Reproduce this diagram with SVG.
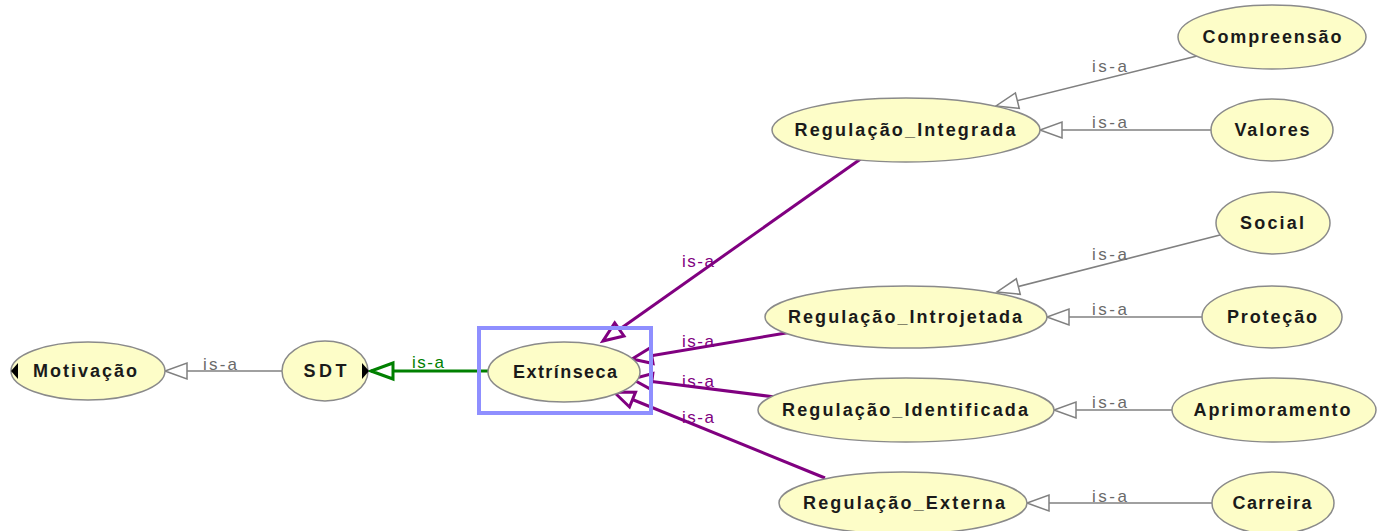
<svg xmlns="http://www.w3.org/2000/svg" width="1380" height="531" viewBox="0 0 1380 531">
  <style>
    .node ellipse { fill: #fdfdc8; stroke: #8a8a8a; stroke-width: 1.5; }
    .node text { font-family: "Liberation Sans", Arial, sans-serif; font-weight: bold; font-size: 18px; fill: #1a1a1a; text-anchor: middle; }
    .edge { fill: none; }
    .gray { stroke: #808080; stroke-width: 1.6; }
    .purple { stroke: #800080; stroke-width: 3; }
    .green { stroke: #008000; stroke-width: 3; }
    .lbl { font-family: "Liberation Sans", Arial, sans-serif; font-size: 17px; }
    .lbl.g { fill: #6a6a6a; }
    .lbl.p { fill: #800080; }
    .lbl.gr { fill: #008000; }
  </style>
  <defs>
    <marker id="tri-gray" markerUnits="userSpaceOnUse" markerWidth="30" markerHeight="30" refX="0" refY="0" viewBox="-25 -12 30 24" orient="auto" overflow="visible">
      <path d="M0,0 L-22,-8 L-22,8 Z" fill="#ffffff" stroke="#808080" stroke-width="1.5"/>
    </marker>
    <marker id="tri-purple" markerUnits="userSpaceOnUse" markerWidth="30" markerHeight="30" refX="0" refY="0" viewBox="-25 -12 30 24" orient="auto" overflow="visible">
      <path d="M0,0 L-20,-8 L-20,8 Z" fill="#ffffff" stroke="#800080" stroke-width="3"/>
    </marker>
    <marker id="tri-green" markerUnits="userSpaceOnUse" markerWidth="30" markerHeight="30" refX="0" refY="0" viewBox="-25 -12 30 24" orient="auto" overflow="visible">
      <path d="M0,0 L-22,-8 L-22,8 Z" fill="#ffffff" stroke="#008000" stroke-width="3"/>
    </marker>
  </defs>

  <rect width="1380" height="531" fill="#ffffff"/>

  <!-- is-a connectors -->
  <g id="connectors">
    <line class="edge gray" x1="282" y1="371" x2="165" y2="371" marker-end="url(#tri-gray)"/>
    <line class="edge green" x1="488" y1="371" x2="371" y2="371" marker-end="url(#tri-green)"/>

    <line class="edge purple" x1="862" y1="158" x2="603" y2="341" marker-end="url(#tri-purple)"/>
    <line class="edge purple" x1="792" y1="332" x2="632" y2="359" marker-end="url(#tri-purple)"/>
    <line class="edge purple" x1="775" y1="397" x2="632" y2="379" marker-end="url(#tri-purple)"/>
    <line class="edge purple" x1="825" y1="478" x2="614" y2="392" marker-end="url(#tri-purple)"/>

    <line class="edge gray" x1="1197" y1="56" x2="996" y2="106" marker-end="url(#tri-gray)"/>
    <line class="edge gray" x1="1212" y1="130" x2="1040" y2="130" marker-end="url(#tri-gray)"/>
    <line class="edge gray" x1="1220" y1="235" x2="997" y2="292" marker-end="url(#tri-gray)"/>
    <line class="edge gray" x1="1203" y1="317" x2="1047" y2="317" marker-end="url(#tri-gray)"/>
    <line class="edge gray" x1="1172" y1="410" x2="1054" y2="410" marker-end="url(#tri-gray)"/>
    <line class="edge gray" x1="1212" y1="503" x2="1027" y2="503" marker-end="url(#tri-gray)"/>

    <text class="lbl g" x="203" y="370" textLength="34">is-a</text>
    <text class="lbl gr" x="412" y="368" textLength="32">is-a</text>
    <text class="lbl p" x="682" y="267" textLength="32">is-a</text>
    <text class="lbl p" x="682" y="347" textLength="32">is-a</text>
    <text class="lbl p" x="682" y="387" textLength="32">is-a</text>
    <text class="lbl p" x="682" y="423" textLength="32">is-a</text>
    <text class="lbl g" x="1092" y="72" textLength="35">is-a</text>
    <text class="lbl g" x="1092" y="128" textLength="35">is-a</text>
    <text class="lbl g" x="1092" y="260" textLength="35">is-a</text>
    <text class="lbl g" x="1092" y="315" textLength="35">is-a</text>
    <text class="lbl g" x="1092" y="408" textLength="35">is-a</text>
    <text class="lbl g" x="1092" y="502" textLength="35">is-a</text>
  </g>

  <!-- selection frame -->
  <rect x="479" y="328" width="172" height="85" fill="none" stroke="#8f8fff" stroke-width="4"/>

  <g id="node-motivacao" class="node">
    <ellipse cx="88" cy="371" rx="77" ry="29"/>
    <path d="M11,371 L18,363 L18,379 Z" fill="#000000"/>
    <text x="85" y="377" textLength="104">Motivação</text>
  </g>
  <g id="node-sdt" class="node">
    <ellipse cx="325" cy="371" rx="43" ry="30"/>
    <path d="M369,371 L362,363 L362,379 Z" fill="#000000"/>
    <text x="325" y="377" textLength="43">SDT</text>
  </g>
  <g id="node-extrinseca" class="node">
    <ellipse cx="564" cy="372" rx="76" ry="30"/>
    <text x="565" y="378" textLength="104">Extrínseca</text>
  </g>
  <g id="node-integrada" class="node">
    <ellipse cx="906" cy="130" rx="134" ry="32"/>
    <text x="905" y="136" textLength="221">Regulação_Integrada</text>
  </g>
  <g id="node-introjetada" class="node">
    <ellipse cx="906" cy="317" rx="141" ry="31"/>
    <text x="905" y="323" textLength="234">Regulação_Introjetada</text>
  </g>
  <g id="node-identificada" class="node">
    <ellipse cx="906" cy="410" rx="148" ry="32"/>
    <text x="905" y="416" textLength="246">Regulação_Identificada</text>
  </g>
  <g id="node-externa" class="node">
    <ellipse cx="903" cy="503" rx="124" ry="31"/>
    <text x="904" y="509" textLength="202">Regulação_Externa</text>
  </g>
  <g id="node-compreensao" class="node">
    <ellipse cx="1272" cy="37" rx="94" ry="32"/>
    <text x="1272" y="43" textLength="139">Compreensão</text>
  </g>
  <g id="node-valores" class="node">
    <ellipse cx="1272" cy="130" rx="61" ry="31"/>
    <text x="1272" y="136" textLength="75">Valores</text>
  </g>
  <g id="node-social" class="node">
    <ellipse cx="1273" cy="223" rx="57" ry="31"/>
    <text x="1272" y="229" textLength="64">Social</text>
  </g>
  <g id="node-protecao" class="node">
    <ellipse cx="1272" cy="317" rx="70" ry="31"/>
    <text x="1272" y="323" textLength="90">Proteção</text>
  </g>
  <g id="node-aprimoramento" class="node">
    <ellipse cx="1274" cy="410" rx="102" ry="32"/>
    <text x="1272" y="416" textLength="157">Aprimoramento</text>
  </g>
  <g id="node-carreira" class="node">
    <ellipse cx="1273" cy="503" rx="61" ry="31"/>
    <text x="1272" y="509" textLength="79">Carreira</text>
  </g>
</svg>
